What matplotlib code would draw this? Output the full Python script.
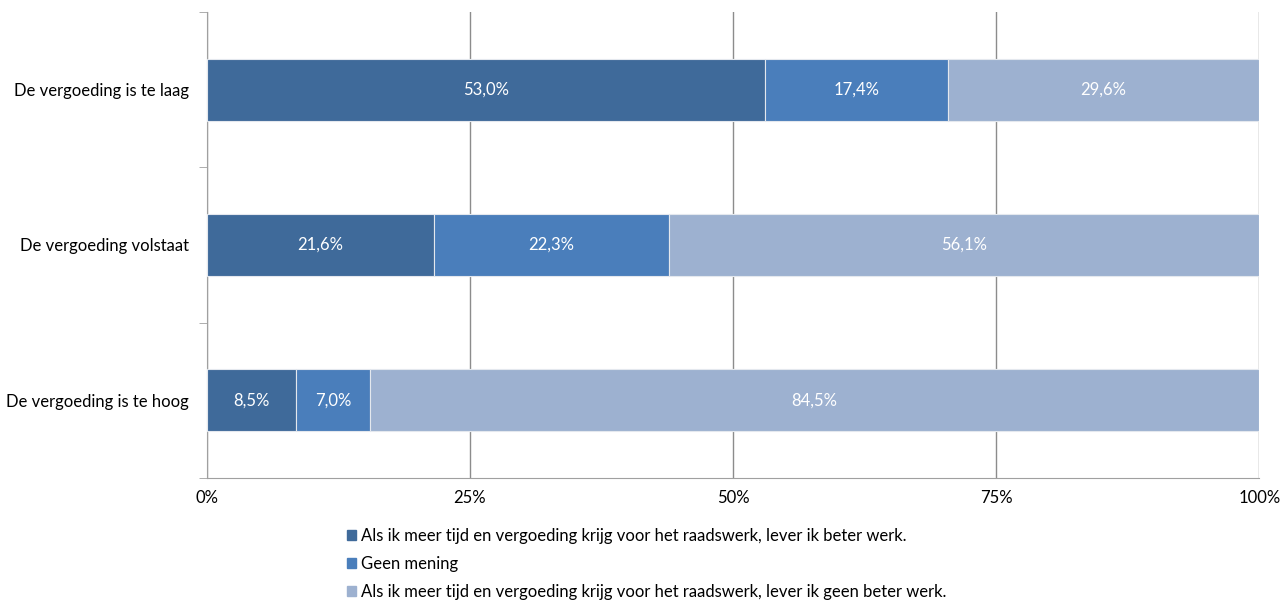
import matplotlib.pyplot as plt
from matplotlib.patches import Patch
import numpy as np

plt.rcParams['font.family'] = ['Lato', 'DejaVu Sans']

categories = ['De vergoeding is te laag', 'De vergoeding volstaat', 'De vergoeding is te hoog']
series_names = [
    'Als ik meer tijd en vergoeding krijg voor het raadswerk, lever ik beter werk.',
    'Geen mening',
    'Als ik meer tijd en vergoeding krijg voor het raadswerk, lever ik geen beter werk.',
]
beter = [53.0, 21.6, 8.5]
geen_mening = [17.4, 22.3, 7.0]
geen_beter = [29.6, 56.1, 84.5]
colors = ['#3F6A9A', '#4A7EBB', '#9DB1D0']

fig = plt.figure(figsize=(12.85, 6.01), dpi=100)
ax = fig.add_axes([0.161, 0.205, 0.819, 0.775])

y = np.arange(len(categories))
left = np.zeros(len(categories))
for vals, col in zip([beter, geen_mening, geen_beter], colors):
    vals = np.array(vals)
    bars = ax.barh(y, vals, left=left, height=0.4, color=col, edgecolor='#E4E8EE', linewidth=0.8, zorder=3)
    for b, v in zip(bars, vals):
        ax.text(b.get_x() + b.get_width() / 2, b.get_y() + b.get_height() / 2,
                f'{v:.1f}%'.replace('.', ','), color='white', ha='center', va='center',
                fontsize=12, zorder=4)
    left += vals

ax.set_xlim(0, 100)
ax.set_ylim(2.5, -0.5)
ax.set_xticks([0, 25, 50, 75, 100])
ax.set_xticklabels(['0%', '25%', '50%', '75%', '100%'], fontsize=12)
ax.set_yticks(y)
ax.set_yticklabels(categories, fontsize=12)
ax.set_yticks([-0.5, 0.5, 1.5, 2.5], minor=True)
ax.tick_params(axis='y', which='major', length=0, pad=13)
ax.tick_params(axis='y', which='minor', length=6, color='#A0A0A0')
ax.tick_params(axis='x', length=0, pad=9)
ax.grid(axis='x', color='#8C8C8C', linewidth=1, zorder=0)
for s in ['top', 'right']:
    ax.spines[s].set_visible(False)
ax.spines['left'].set_color('#A0A0A0')
ax.spines['bottom'].set_color('#A0A0A0')

handles = [Patch(color=c) for c in colors]
fig.legend(handles, series_names, loc='upper left', bbox_to_anchor=(0.265, 0.132),
           frameon=False, fontsize=12, handlelength=0.55, handleheight=0.55,
           handletextpad=0.3, labelspacing=0.7, borderaxespad=0)

fig.savefig('out.png', dpi=100)
